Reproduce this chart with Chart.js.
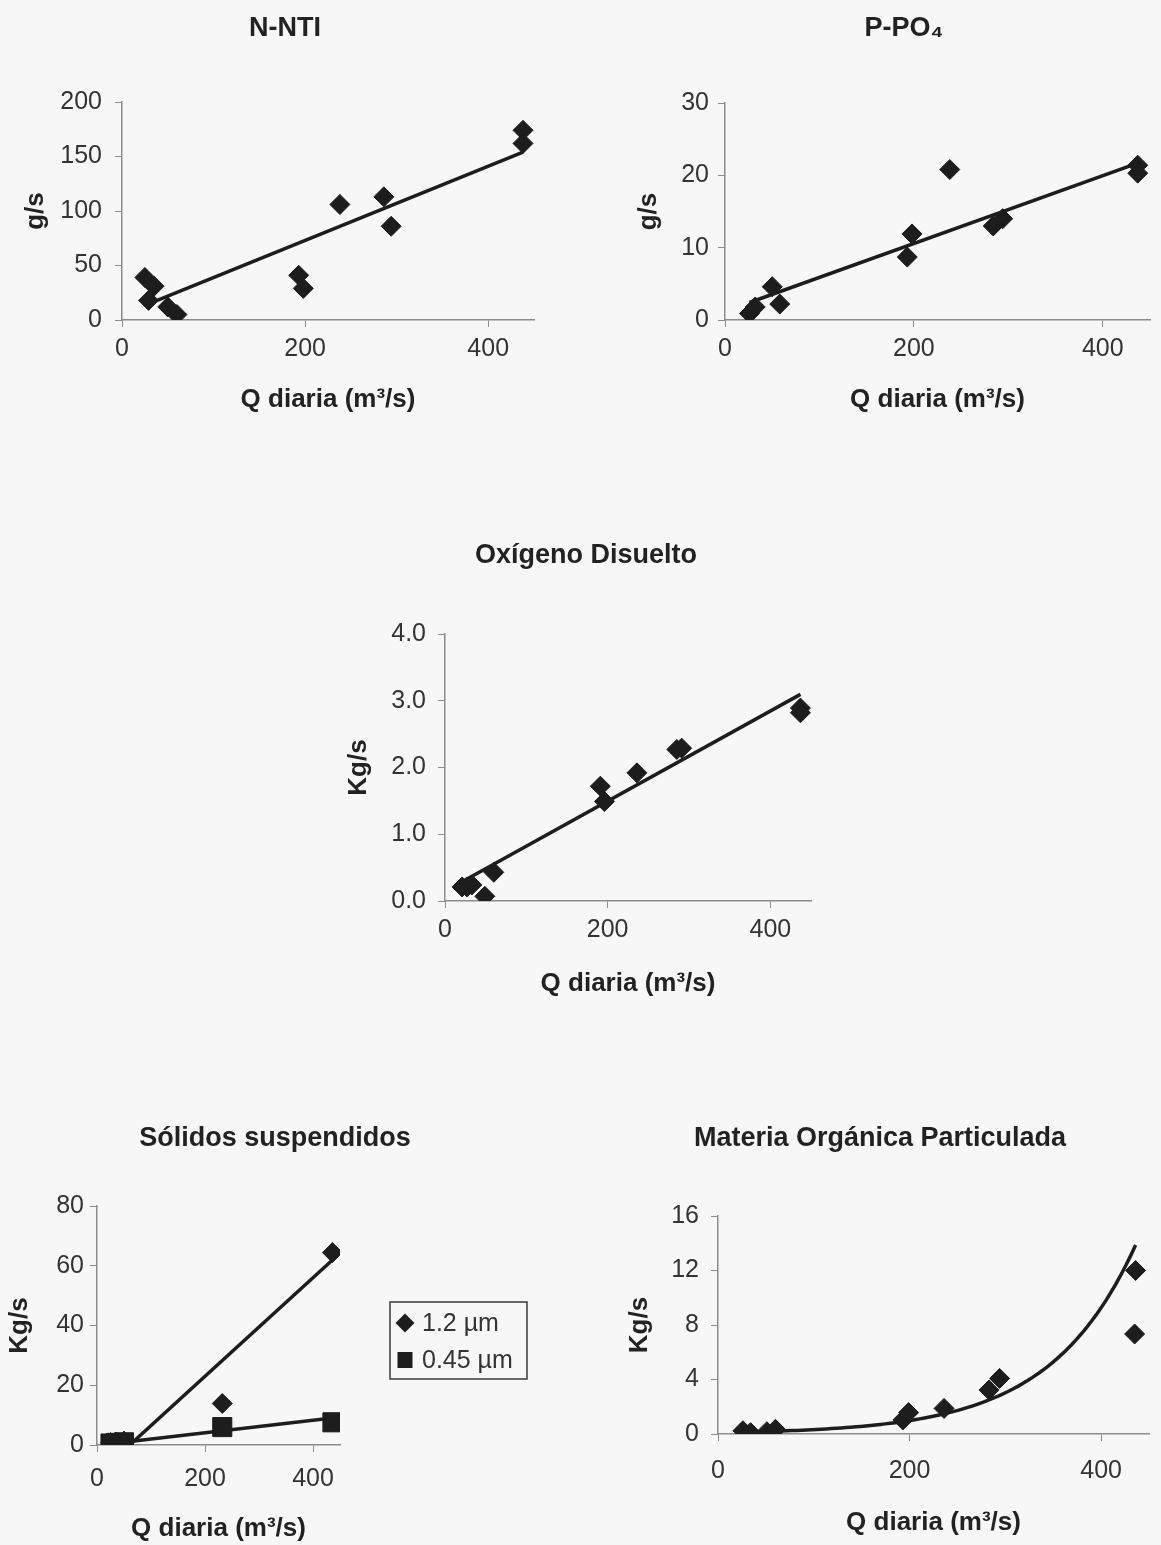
<!DOCTYPE html>
<html lang="es">
<head>
<meta charset="utf-8">
<title>Cargas frente a caudal diario</title>
<script src="https://cdn.jsdelivr.net/npm/chart.js@4.4.1/dist/chart.umd.min.js"></script>
<style>
  html, body { margin: 0; padding: 0; background: #f7f7f7; }
  #page { position: relative; width: 1161px; height: 1545px; overflow: hidden; }
  canvas { position: absolute; }
</style>
</head>
<body>
<div id="page">
  <canvas id="cNnti"></canvas>
  <canvas id="cPpo4"></canvas>
  <canvas id="cOd"></canvas>
  <canvas id="cSolidos"></canvas>
  <canvas id="cMop"></canvas>
</div>
<script>
// ---- values ----
const xTicks = [0, 200, 400];

// N-NTI (g/s)
const nntiQ = [25, 29, 35, 50, 60, 193, 198, 238, 286, 294, 438, 438];
const nntiLoad = [39, 18, 31, 12, 5, 41, 29, 106, 113, 86, 174, 162];
const nntiTrend = [0.34, 5];            // slope, intercept
const nntiTicks = [0, 50, 100, 150, 200];

// P-PO4 (g/s)
const ppo4Q = [26, 32, 50, 58, 193, 198, 238, 284, 294, 437, 437];
const ppo4Load = [0.9, 1.8, 4.6, 2.2, 8.7, 11.9, 20.8, 13.0, 14.0, 21.4, 20.3];
const ppo4Trend = [0.0469, 1.2];
const ppo4Ticks = [0, 10, 20, 30];

// Oxigeno disuelto (Kg/s)
const odQ = [21, 27, 33, 49, 60, 191, 196, 236, 285, 291, 437, 437];
const odLoad = [0.21, 0.21, 0.24, 0.07, 0.43, 1.72, 1.49, 1.92, 2.27, 2.29, 2.89, 2.82];
const odTrend = [0.00675, 0.146];
const odTicks = [0, 1, 2, 3, 4];

// Solidos suspendidos (Kg/s), two filter sizes
const ssQ = [25, 35, 50, 232, 436];
const ss12Load = [0.8, 1.0, 1.3, 13.9, 64.4];
const ss045Load = [0.5, 0.7, 0.9, 6.0, 7.6];
const ss12Trend = [0.165, -10];
const ss045Trend = [0.021, -0.1];
const ssTicks = [0, 20, 40, 60, 80];

// Materia organica particulada (Kg/s), exponential fit a*exp(b*Q)
const mopQ = [26, 34, 51, 60, 193, 199, 236, 283, 294, 436, 435];
const mopLoad = [0.24, 0.1, 0.17, 0.34, 1.03, 1.57, 1.88, 3.23, 4.08, 12.0, 7.34];
const mopTrend = [0.105, 0.0112];
const mopTicks = [0, 4, 8, 12, 16];

// ---- look ----
const FONT = "'Liberation Sans', Arial, 'DejaVu Sans', sans-serif";
const INK = "#1d1d1d";
const AXIS_COLOR = "#8c8c8c";
const TICK_COLOR = "#333333";
const TITLE_COLOR = "#222222";
const TICK_LEN = 7;
const TICK_SIZE = 25, AXIS_SIZE = 26, TITLE_SIZE = 27;
const LH_TICK = TICK_SIZE * 1.2, LH_AXIS = AXIS_SIZE * 1.2, LH_TITLE = TITLE_SIZE * 1.2;

Chart.defaults.font.family = FONT;
Chart.defaults.color = TICK_COLOR;

function points(xs, ys) {
    return xs.map((x, i) => ({ x: x, y: ys[i] }));
}

function linearTrend(xs, coef) {
    const lo = Math.min(...xs), hi = Math.max(...xs);
    return [lo, hi].map(x => ({ x: x, y: coef[0] * x + coef[1] }));
}

function expTrend(xs, coef) {
    const lo = Math.min(...xs), hi = Math.max(...xs);
    const out = [];
    for (let i = 0; i <= 80; i++) {
        const x = lo + (hi - lo) * i / 80;
        out.push({ x: x, y: coef[0] * Math.exp(coef[1] * x) });
    }
    return out;
}

function markers(label, data, style, radius) {
    return {
        label: label, data: data, pointStyle: style, pointRadius: radius,
        backgroundColor: INK, borderColor: INK, borderWidth: 1, order: 0,
        xAxisID: "x", yAxisID: "y"
    };
}

function trendLine(data) {
    return {
        data: data, showLine: true, pointRadius: 0, borderColor: INK,
        borderWidth: 3.5, tension: 0, fill: false, order: 1,
        xAxisID: "x", yAxisID: "y"
    };
}

// framed legend like the spreadsheet one
const boxLegend = {
    id: "boxLegend",
    afterDraw(chart, args, opts) {
        if (!opts || !opts.display) return;
        const ctx = chart.ctx;
        const items = chart.data.datasets.filter(d => d.label);
        ctx.save();
        ctx.strokeStyle = "#3a3a3a";
        ctx.lineWidth = 1.5;
        ctx.strokeRect(opts.x, opts.y, opts.width, opts.height);
        ctx.font = TICK_SIZE + "px " + FONT;
        ctx.textBaseline = "middle";
        items.forEach((d, i) => {
            const cx = opts.x + opts.markerX;
            const cy = opts.y + opts.firstRow + i * opts.rowGap;
            ctx.fillStyle = INK;
            ctx.beginPath();
            if (d.pointStyle === "rectRot") {
                const r = 9.5;
                ctx.moveTo(cx, cy - r); ctx.lineTo(cx + r, cy);
                ctx.lineTo(cx, cy + r); ctx.lineTo(cx - r, cy);
            } else {
                ctx.rect(cx - 7.5, cy - 8, 15, 16);
            }
            ctx.closePath();
            ctx.fill();
            ctx.fillStyle = TICK_COLOR;
            ctx.fillText(d.label, opts.x + opts.textX, cy + 1);
        });
        ctx.restore();
    }
};

function buildChart(id, g, opt) {
    const canvas = document.getElementById(id);
    canvas.width = g.w;
    canvas.height = g.h;
    canvas.style.left = g.left + "px";
    canvas.style.top = g.top + "px";

    const spanR = g.spanR || g.plotR;
    const padL = 2 * g.titleX - spanR - g.left;
    const yLeft = g.left + padL;
    const titleTop = g.titleY - g.top - LH_TITLE / 2;

    const scales = {
        x: {
            type: "linear", min: 0, max: 450,
            afterBuildTicks: s => { s.ticks = xTicks.map(v => ({ value: v })); },
            afterFit: s => { s.height = g.top + g.h - g.plotB; },
            grid: { drawOnChartArea: false, drawTicks: true, tickLength: TICK_LEN, color: AXIS_COLOR },
            border: { display: true, color: AXIS_COLOR, width: 1.5 },
            ticks: {
                padding: g.xTickY - g.plotB - TICK_LEN - LH_TICK / 2,
                font: { size: TICK_SIZE }, color: TICK_COLOR, maxRotation: 0
            },
            title: {
                display: true, text: "Q diaria (m³/s)", color: TITLE_COLOR,
                font: { size: AXIS_SIZE, weight: "bold" },
                padding: { top: 0, bottom: g.top + g.h - g.xTitleY - LH_AXIS / 2 }
            }
        },
        y: {
            type: "linear", min: opt.yTicks[0], max: opt.yTicks[opt.yTicks.length - 1],
            afterBuildTicks: s => { s.ticks = opt.yTicks.map(v => ({ value: v })); },
            afterFit: s => { s.width = g.plotL - yLeft; },
            grid: { drawOnChartArea: false, drawTicks: true, tickLength: TICK_LEN, color: AXIS_COLOR },
            border: { display: true, color: AXIS_COLOR, width: 1.5 },
            ticks: {
                padding: g.plotL - TICK_LEN - g.yTickR,
                font: { size: TICK_SIZE }, color: TICK_COLOR,
                callback: opt.yFormat || (v => String(v))
            },
            title: {
                display: true, text: opt.yTitle, color: TITLE_COLOR,
                font: { size: AXIS_SIZE, weight: "bold" },
                padding: { top: g.yTitleX - yLeft - LH_AXIS / 2, bottom: 0 }
            }
        }
    };

    if (spanR > g.plotR) {
        // empty strip on the right so the title centres like the original
        scales.gap = {
            type: "linear", position: "right", display: true,
            grid: { display: false }, border: { display: false }, ticks: { display: false },
            afterFit: s => { s.width = spanR - g.plotR; }
        };
    }

    return new Chart(canvas, {
        type: "scatter",
        data: { datasets: opt.datasets },
        options: {
            responsive: false,
            animation: false,
            layout: { padding: { left: padL, right: g.left + g.w - spanR, top: 0, bottom: 0 } },
            scales: scales,
            plugins: {
                legend: { display: false },
                tooltip: { enabled: false },
                title: {
                    display: true, text: opt.title, color: TITLE_COLOR,
                    font: { size: TITLE_SIZE, weight: "bold" },
                    padding: { top: titleTop, bottom: g.plotT - g.top - titleTop - LH_TITLE }
                },
                boxLegend: opt.legend || { display: false }
            }
        },
        plugins: [boxLegend]
    });
}

buildChart("cNnti",
    { left: 0, top: 0, w: 560, h: 440, plotL: 122, plotR: 534, plotT: 102, plotB: 320,
      titleX: 285, titleY: 29, yTitleX: 36, yTickR: 102, xTickY: 349, xTitleY: 400 },
    {
        title: "N-NTI", yTitle: "g/s", yTicks: nntiTicks,
        datasets: [
            markers("", points(nntiQ, nntiLoad), "rectRot", 10),
            trendLine(linearTrend(nntiQ, nntiTrend))
        ]
    });

buildChart("cPpo4",
    { left: 600, top: 0, w: 561, h: 440, plotL: 725, plotR: 1154, plotT: 103, plotB: 320,
      titleX: 904, titleY: 29, yTitleX: 649, yTickR: 709, xTickY: 349, xTitleY: 400 },
    {
        title: "P-PO₄", yTitle: "g/s", yTicks: ppo4Ticks,
        datasets: [
            markers("", points(ppo4Q, ppo4Load), "rectRot", 10),
            trendLine(linearTrend(ppo4Q, ppo4Trend))
        ]
    });

buildChart("cOd",
    { left: 320, top: 520, w: 520, h: 520, plotL: 445, plotR: 811, plotT: 634, plotB: 901,
      titleX: 586, titleY: 556, yTitleX: 359, yTickR: 426, xTickY: 930, xTitleY: 984 },
    {
        title: "Oxígeno Disuelto", yTitle: "Kg/s", yTicks: odTicks,
        yFormat: v => v.toFixed(1),
        datasets: [
            markers("", points(odQ, odLoad), "rectRot", 10),
            trendLine(linearTrend(odQ, odTrend))
        ]
    });

buildChart("cSolidos",
    { left: 0, top: 1080, w: 560, h: 465, plotL: 97, plotR: 340, spanR: 550, plotT: 1206, plotB: 1445,
      titleX: 275, titleY: 1139, yTitleX: 20, yTickR: 84, xTickY: 1479, xTitleY: 1529 },
    {
        title: "Sólidos suspendidos", yTitle: "Kg/s", yTicks: ssTicks,
        datasets: [
            markers("1.2 µm", points(ssQ, ss12Load), "rectRot", 10),
            markers("0.45 µm", points(ssQ, ss045Load), "rect", 13.5),
            trendLine(linearTrend(ssQ, ss12Trend)),
            trendLine(linearTrend(ssQ, ss045Trend))
        ],
        legend: { display: true, x: 390, y: 222, width: 137, height: 77,
                  markerX: 15, textX: 32, firstRow: 21, rowGap: 37 }
    });

buildChart("cMop",
    { left: 600, top: 1080, w: 561, h: 465, plotL: 718, plotR: 1149, plotT: 1216, plotB: 1434,
      titleX: 880, titleY: 1139, yTitleX: 640, yTickR: 699, xTickY: 1471, xTitleY: 1523 },
    {
        title: "Materia Orgánica Particulada", yTitle: "Kg/s", yTicks: mopTicks,
        datasets: [
            markers("", points(mopQ, mopLoad), "rectRot", 10),
            trendLine(expTrend(mopQ, mopTrend))
        ]
    });
</script>
</body>
</html>
